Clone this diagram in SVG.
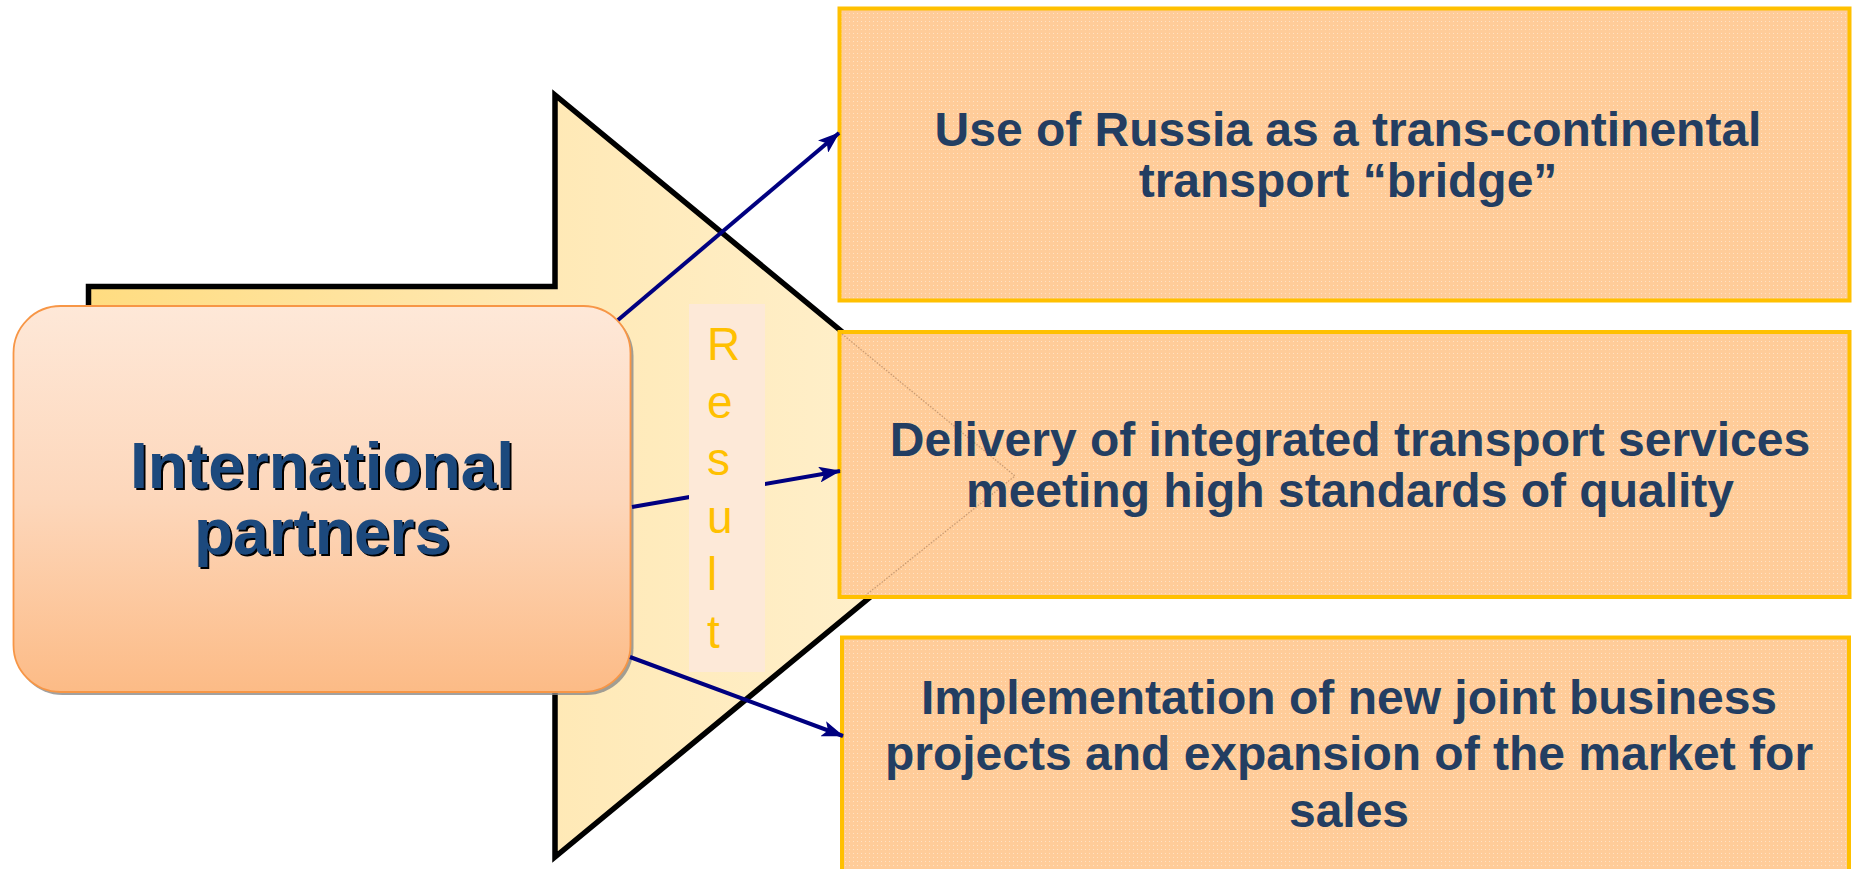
<svg xmlns="http://www.w3.org/2000/svg" width="1852" height="869" viewBox="0 0 1852 869">
<defs>
<linearGradient id="gArrow" gradientUnits="userSpaceOnUse" x1="88" y1="0" x2="1017" y2="0">
<stop offset="0" stop-color="#FFDC80"/>
<stop offset="0.5" stop-color="#FFE9B6"/>
<stop offset="1" stop-color="#FFF2D3"/>
</linearGradient>
<linearGradient id="gNode" x1="0" y1="0" x2="0" y2="1">
<stop offset="0" stop-color="#FEE8D8"/>
<stop offset="0.5" stop-color="#FDD7BB"/>
<stop offset="1" stop-color="#FCBB86"/>
</linearGradient>
<pattern id="dots" width="4" height="4" patternUnits="userSpaceOnUse">
<rect width="4" height="4" fill="#FFCC99"/>
<rect x="1" y="1" width="1" height="1" fill="#FFE2C4"/>
</pattern>
<filter id="tshadow" x="-5%" y="-10%" width="110%" height="125%">
<feOffset in="SourceAlpha" dx="2" dy="2" result="off"/>
<feMerge><feMergeNode in="off"/><feMergeNode in="SourceGraphic"/></feMerge>
</filter>
<marker id="ah" viewBox="0 0 22 16" refX="21" refY="8" markerWidth="22" markerHeight="16" markerUnits="userSpaceOnUse" orient="auto">
<path d="M0,0 L22,8 L0,16 L5,8 Z" fill="#000080"/>
</marker>
</defs>
<style>
.box{fill:url(#dots);stroke:#FFC000;stroke-width:4}
.bt{font-family:"Liberation Sans",Arial,sans-serif;font-weight:bold;font-size:48px;fill:#233E62;text-anchor:middle}
.nt{font-family:"Liberation Sans",Arial,sans-serif;font-weight:bold;font-size:64px;fill:#1F497D;text-anchor:middle;filter:url(#tshadow)}
.rt{font-family:"Liberation Sans",Arial,sans-serif;font-size:46px;fill:#FFC000}
.conn{stroke:#000080;stroke-width:4;fill:none;marker-end:url(#ah)}
</style>

<g id="block-arrow">
<path d="M88.5,286.5 L555,286.5 L555,95 L1017,476 L555,857 L555,665.5 L88.5,665.5 Z" fill="url(#gArrow)" stroke="#000" stroke-width="5.5" stroke-linejoin="miter"/>
</g>

<g id="node-partners">
<rect x="15.5" y="309" width="618" height="386" rx="47" ry="47" fill="#8a8a8a" opacity="0.8"/>
<rect x="13.5" y="306" width="617" height="386" rx="47" ry="47" fill="url(#gNode)" stroke="#F79646" stroke-width="1.8"/>
<text class="nt" x="322" y="488">International</text>
<text class="nt" x="322" y="554">partners</text>
</g>

<g id="node-bridge">
<rect class="box" x="839.5" y="8.5" width="1010" height="292"/>
<text class="bt" x="1348" y="145.5">Use of Russia as a trans-continental</text>
<text class="bt" x="1348" y="196.5">transport “bridge”</text>
</g>

<g id="node-delivery">
<rect class="box" x="839.5" y="332" width="1010" height="265"/>
<path d="M842,334 L1015,476 L866,595" fill="none" stroke="#A87A55" stroke-width="1.3" stroke-dasharray="1.5 1.5" opacity="0.6"/>
<text class="bt" x="1350" y="456">Delivery of integrated transport services</text>
<text class="bt" x="1350" y="507">meeting high standards of quality</text>
</g>

<g id="node-implementation">
<rect class="box" x="842" y="637.5" width="1007" height="260"/>
<text class="bt" x="1349" y="714">Implementation of new joint business</text>
<text class="bt" x="1349" y="770">projects and expansion of the market for</text>
<text class="bt" x="1349" y="827">sales</text>
</g>

<g id="connectors">
<line class="conn" x1="618" y1="320" x2="839" y2="133"/>
<line class="conn" x1="632" y1="507" x2="840" y2="471"/>
<line class="conn" x1="630" y1="657" x2="843" y2="736"/>
</g>

<g id="result-label">
<rect x="689" y="304" width="76" height="368" fill="#FDE9D8"/>
<text class="rt" x="707" y="360">R</text>
<text class="rt" x="707" y="417.5">e</text>
<text class="rt" x="707" y="475">s</text>
<text class="rt" x="707" y="532.5">u</text>
<text class="rt" x="707" y="590">l</text>
<text class="rt" x="707" y="647.5">t</text>
</g>
</svg>
